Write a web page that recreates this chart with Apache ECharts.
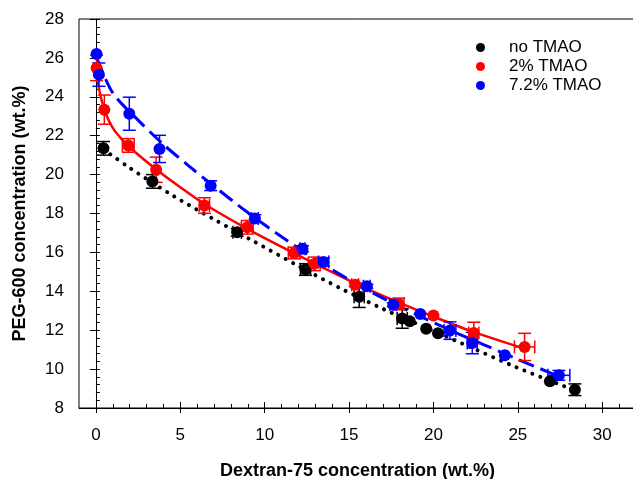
<!DOCTYPE html>
<html>
<head>
<meta charset="utf-8">
<script src="https://cdn.jsdelivr.net/npm/echarts@6/dist/echarts.min.js"></script>
<style>
html,body{margin:0;padding:0;background:#fff;}
#chart{width:633px;height:479px;}
</style>
</head>
<body>
<div id="chart"></div>
<script>
// ---- data: [dextran wt.%, PEG wt.%, x error, y error] ----
const noTmaoPts = [
  [0.45, 21.35, 0, 0.35], [3.35, 19.65, 0, 0.35], [8.37, 17.03, 0.25, 0.2],
  [12.42, 15.12, 0.3, 0.3], [15.6, 13.72, 0.3, 0.55], [18.15, 12.6, 0.3, 0.5],
  [18.6, 12.46, 0, 0], [19.57, 12.07, 0, 0], [20.27, 11.84, 0, 0],
  [26.9, 9.38, 0, 0], [28.38, 8.94, 0, 0.3]
];
const tmao2Pts = [
  [0.04, 25.48, 0, 0.65], [0.5, 23.34, 0, 0.75], [1.92, 21.5, 0.35, 0.35],
  [3.57, 20.25, 0, 0.65], [6.43, 18.41, 0.3, 0.4], [8.97, 17.29, 0.35, 0.35],
  [11.75, 15.97, 0.35, 0.3], [12.94, 15.41, 0.35, 0.35], [15.36, 14.34, 0.2, 0.1],
  [17.95, 13.35, 0.3, 0.3], [20.0, 12.76, 0, 0], [22.39, 11.86, 0.3, 0.55],
  [25.4, 11.14, 0.6, 0.7]
];
const tmao72Pts = [
  [0.04, 26.2, 0, 0], [0.18, 25.14, 0, 0.6], [1.98, 23.13, 0, 0.85],
  [3.77, 21.32, 0, 0.7], [6.8, 19.43, 0, 0.25], [9.42, 17.74, 0.2, 0.2],
  [12.24, 16.19, 0.15, 0.15], [13.49, 15.51, 0.3, 0.2], [16.05, 14.26, 0.2, 0.1],
  [17.62, 13.31, 0.2, 0.1], [19.22, 12.83, 0, 0], [20.98, 11.98, 0.35, 0.45],
  [22.3, 11.34, 0.3, 0.55], [24.23, 10.71, 0, 0], [27.43, 9.68, 0.65, 0.25]
];
// ---- fitted binodal curves ----
const noTmaoFit = [
  [0.45, 21.3], [2.0, 20.35], [4.6, 18.9], [7.0, 17.7], [9.4, 16.55],
  [12.0, 15.3], [14.5, 14.15], [17.0, 13.1], [19.5, 12.15], [22.0, 11.2],
  [24.9, 10.1], [27.8, 9.1]
];
const tmao2Fit = [
  [0.0, 25.6], [0.15, 24.6], [0.35, 23.8], [0.6, 23.1], [1.0, 22.4], [1.5, 21.85],
  [2.2, 21.25], [3.6, 20.25], [5.0, 19.35], [6.5, 18.45], [9.0, 17.2],
  [12.0, 15.85], [15.4, 14.4], [18.0, 13.4], [20.0, 12.7], [22.4, 11.9], [25.4, 11.05]
];
const tmao72Fit = [
  [0.05, 26.0], [1.0, 24.2], [2.5, 22.8], [4.0, 21.55], [5.5, 20.45],
  [7.0, 19.4], [9.0, 18.05], [11.0, 16.8], [13.0, 15.65], [15.0, 14.6],
  [17.0, 13.65], [19.0, 12.8], [21.0, 12.0], [23.0, 11.25], [25.0, 10.5], [27.5, 9.6]
];
const seriesNames = ['no TMAO', '2% TMAO', '7.2% TMAO'];
const seriesColors = ['#000000', '#ff0000', '#0000ff'];
const xMajorTicks = [0, 5, 10, 15, 20, 25, 30];
const xMinorTicks = [];
for (let i = 0; i <= 32; i++) xMinorTicks.push(i);

const FONT = '"Liberation Sans", Arial, sans-serif';
const gridRect = { left: 79, top: 19, width: 557, height: 389, containLabel: false, outerBoundsMode: 'none' };

function errRender(color) {
  return function (params, api) {
    const x = api.value(0), y = api.value(1), ex = api.value(2), ey = api.value(3);
    const cap = 6.5;
    const children = [];
    const st = () => ({ stroke: color, lineWidth: 1.5 });
    if (ey > 0) {
      const t = api.coord([x, y + ey]), b = api.coord([x, y - ey]);
      children.push({ type: 'line', shape: { x1: t[0], y1: t[1], x2: b[0], y2: b[1] }, style: st() });
      children.push({ type: 'line', shape: { x1: t[0] - cap, y1: t[1], x2: t[0] + cap, y2: t[1] }, style: st() });
      children.push({ type: 'line', shape: { x1: b[0] - cap, y1: b[1], x2: b[0] + cap, y2: b[1] }, style: st() });
    }
    if (ex > 0) {
      const l = api.coord([x - ex, y]), r = api.coord([x + ex, y]);
      children.push({ type: 'line', shape: { x1: l[0], y1: l[1], x2: r[0], y2: r[1] }, style: st() });
      children.push({ type: 'line', shape: { x1: l[0], y1: l[1] - cap, x2: l[0], y2: l[1] + cap }, style: st() });
      children.push({ type: 'line', shape: { x1: r[0], y1: r[1] - cap, x2: r[0], y2: r[1] + cap }, style: st() });
    }
    return { type: 'group', children: children };
  };
}

const allPts = [noTmaoPts, tmao2Pts, tmao72Pts];
const fits = [noTmaoFit, tmao2Fit, tmao72Fit];
const fitStyles = [
  { color: '#000', width: 4, type: [0.01, 8.5], cap: 'round' },
  { color: '#ff0000', width: 2.5, type: 'solid' },
  { color: '#0000ff', width: 3, type: [16, 7] }
];

const series = [];
fits.forEach((f, i) => {
  series.push({
    type: 'line', name: 'fit' + i, data: f, showSymbol: false, symbol: 'none',
    smooth: 0.3, lineStyle: fitStyles[i], z: 2, silent: true
  });
});
allPts.forEach((p, i) => {
  series.push({
    type: 'custom', name: 'err' + i, data: p, renderItem: errRender(seriesColors[i]),
    encode: { x: 0, y: 1 }, z: 3, silent: true
  });
});
allPts.forEach((p, i) => {
  series.push({
    type: 'scatter', name: seriesNames[i], data: p.map(d => [d[0], d[1]]),
    symbol: 'circle', symbolSize: 12, itemStyle: { color: seriesColors[i], opacity: 1 }, z: 4 + i
  });
});

const axisLineStyle = { show: true, lineStyle: { color: '#000', width: 1 } };

const chart = echarts.init(document.getElementById('chart'), null, { renderer: 'canvas' });
chart.setOption({
  animation: false,
  backgroundColor: '#fff',
  textStyle: { fontFamily: FONT },
  grid: [
    Object.assign({ show: true, borderColor: '#000', borderWidth: 1, backgroundColor: 'transparent' }, gridRect),
    Object.assign({}, gridRect),
    Object.assign({}, gridRect)
  ],
  legend: {
    data: seriesNames, orient: 'vertical', left: 471, top: 34,
    icon: 'circle', itemWidth: 9, itemHeight: 9, itemGap: 2,
    textStyle: { fontSize: 17, color: '#000', fontFamily: FONT, padding: [0, 0, 0, 19], lineHeight: 17 }
  },
  xAxis: [
    {
      gridIndex: 0, type: 'value', min: -1, max: 32, position: 'bottom',
      axisLine: axisLineStyle,
      axisTick: { show: true, inside: true, length: 6, customValues: xMajorTicks, lineStyle: { color: '#000' } },
      axisLabel: { customValues: xMajorTicks, fontSize: 17, color: '#000', margin: 19, fontFamily: FONT },
      splitLine: { show: false },
      name: 'Dextran-75 concentration (wt.%)', nameLocation: 'middle', nameGap: 54,
      nameTextStyle: { fontSize: 18, fontWeight: 'bold', color: '#000', fontFamily: FONT }
    },
    {
      gridIndex: 1, type: 'value', min: -1, max: 32, position: 'bottom',
      axisLine: { show: false },
      axisTick: { show: true, inside: false, length: 5, customValues: xMajorTicks, lineStyle: { color: '#000' } },
      axisLabel: { show: false }, splitLine: { show: false }
    },
    {
      gridIndex: 2, type: 'value', min: -1, max: 32, position: 'bottom',
      axisLine: { show: false },
      axisTick: { show: true, inside: true, length: 4, customValues: xMinorTicks, lineStyle: { color: '#000' } },
      axisLabel: { show: false }, splitLine: { show: false }
    }
  ],
  yAxis: [
    {
      gridIndex: 0, type: 'value', min: 8, max: 28, interval: 2, position: 'left',
      axisLine: axisLineStyle,
      axisTick: { show: true, inside: true, length: 4, lineStyle: { color: '#000' } },
      minorTick: { show: true, splitNumber: 5, length: 4, lineStyle: { color: '#000' } },
      axisLabel: { fontSize: 17, color: '#000', margin: 15, fontFamily: FONT },
      splitLine: { show: false },
      name: 'PEG-600 concentration (wt.%)', nameLocation: 'middle', nameGap: 50, nameRotate: 90,
      nameTextStyle: { fontSize: 18, fontWeight: 'bold', color: '#000', fontFamily: FONT }
    },
    {
      gridIndex: 1, type: 'value', min: 8, max: 28, interval: 2, position: 'left',
      axisLine: { show: false },
      axisTick: { show: true, inside: false, length: 6, lineStyle: { color: '#000' } },
      axisLabel: { show: false }, splitLine: { show: false }
    },
    {
      gridIndex: 2, type: 'value', min: 8, max: 28, interval: 2, position: 'left',
      axisLine: { show: false }, axisTick: { show: false },
      axisLabel: { show: false }, splitLine: { show: false }
    }
  ],
  series: series
});
</script>
</body>
</html>
